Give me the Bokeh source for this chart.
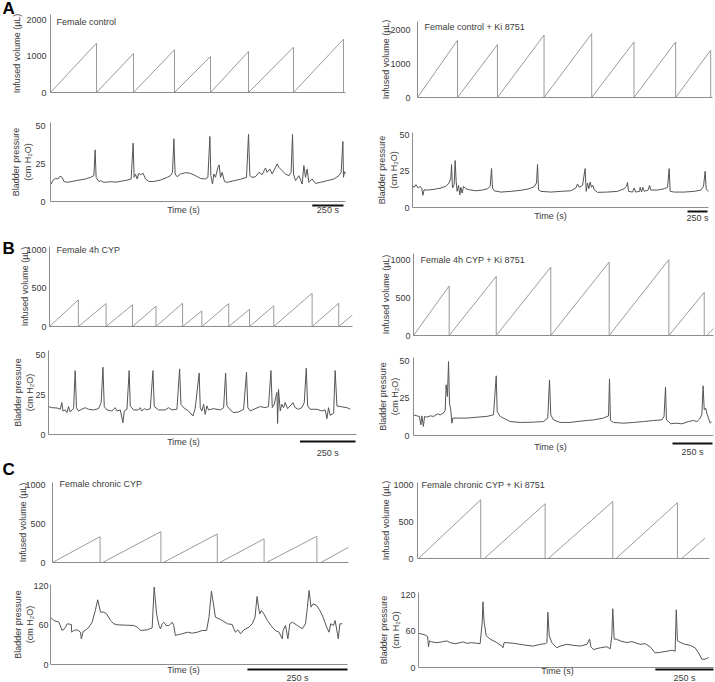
import math
from bokeh.plotting import figure
from bokeh.layouts import column, row
from bokeh.models import FixedTicker, Label, Arrow, Range1d
from bokeh.embed import file_html
from bokeh.resources import INLINE

FONT = "Liberation Sans"
TXT = "#3a3a3a"
AXIS = "#8c8c8c"
VOL_COLOR = "#9a9a9a"
PRES_COLOR = "#555555"

# ------------------------------------------------------------------ data
# A  Female control  (time in s, volume in uL, pressure in cm H2O)
a1_ramp_start = [0, 368, 664, 992, 1280, 1584, 1944]
a1_void_time = [368, 664, 992, 1280, 1584, 1944, 2344]
a1_peak_volume = [1360, 1075, 1180, 995, 1130, 1250, 1470]
a1_pressure = [(0, 12.6), (5, 11.5), (21, 14.1), (40, 15.2), (59, 14.8), (75, 16.6), (93, 15.9), (107, 13.2),
               (133, 12.6), (173, 13.2), (227, 14.1), (280, 14.8), (320, 15.9), (347, 17.0), (357, 34.0),
               (365, 15.9), (373, 14.8), (387, 13.2), (400, 13.7), (427, 12.6), (480, 13.0), (533, 12.8),
               (573, 13.5), (613, 14.1), (645, 14.8), (661, 38.4), (669, 15.9), (680, 18.1), (693, 14.8),
               (707, 18.5), (720, 17.7), (741, 18.5), (760, 14.8), (787, 13.2), (827, 13.2), (880, 14.1),
               (933, 15.9), (960, 17.0), (976, 19.2), (987, 41.3), (997, 18.1), (1013, 16.3), (1040, 18.1),
               (1080, 19.0), (1120, 18.5), (1160, 17.0), (1200, 15.2), (1240, 14.8), (1259, 15.9), (1275, 42.8),
               (1283, 17.0), (1296, 11.5), (1307, 18.1), (1320, 15.9), (1339, 22.5), (1349, 24.1), (1360, 15.9),
               (1373, 19.2), (1392, 13.2), (1413, 12.6), (1467, 13.7), (1520, 14.6), (1568, 15.9), (1584, 44.2),
               (1595, 17.0), (1613, 15.9), (1640, 16.3), (1667, 19.2), (1693, 17.7), (1720, 22.1), (1733, 19.2),
               (1755, 21.4), (1773, 18.1), (1800, 22.5), (1813, 24.7), (1827, 22.5), (1853, 20.3), (1880, 18.1),
               (1907, 17.0), (1925, 19.2), (1936, 44.2), (1944, 18.1), (1960, 13.7), (1987, 17.0), (2013, 11.5),
               (2027, 23.6), (2040, 15.9), (2053, 21.4), (2067, 12.6), (2093, 14.8), (2120, 11.9), (2160, 12.6),
               (2213, 13.7), (2267, 14.8), (2307, 17.0), (2325, 19.2), (2339, 39.5), (2344, 15.9), (2352, 19.6),
               (2360, 18.5)]

# A  Female control + Ki 8751
a2_ramp_start = [0, 500, 1000, 1583, 2179, 2708, 3229]
a2_void_time = [500, 1000, 1583, 2179, 2708, 3229, 3667]
a2_peak_volume = [1686, 1559, 1842, 1881, 1637, 1637, 1394]
a2_pressure = [(0, 15.3), (21, 14.0), (42, 15.8), (71, 13.5), (96, 14.7), (117, 13.0), (129, 8.4), (146, 12.3),
               (188, 12.1), (271, 12.6), (354, 13.5), (417, 14.7), (458, 17.0), (479, 20.5), (488, 29.8),
               (500, 13.5), (521, 15.8), (533, 32.6), (546, 18.1), (558, 11.2), (575, 15.3), (592, 8.8),
               (604, 14.0), (621, 10.0), (638, 14.7), (667, 13.0), (708, 12.3), (792, 11.6), (875, 12.1),
               (938, 13.0), (971, 14.7), (988, 27.0), (1000, 13.5), (1021, 11.6), (1104, 10.7), (1229, 11.2),
               (1354, 11.9), (1458, 13.0), (1521, 14.4), (1550, 17.0), (1563, 29.8), (1575, 12.3), (1604, 11.2),
               (1729, 10.7), (1854, 11.2), (1979, 11.6), (2042, 13.5), (2063, 16.3), (2083, 14.0), (2125, 15.3),
               (2158, 27.0), (2171, 11.2), (2188, 17.0), (2204, 13.0), (2221, 17.7), (2238, 14.0), (2254, 15.3),
               (2271, 12.3), (2313, 10.5), (2438, 10.7), (2563, 11.2), (2646, 13.0), (2675, 14.7), (2688, 17.4),
               (2700, 11.2), (2750, 10.7), (2771, 13.5), (2788, 10.7), (2838, 11.2), (2846, 14.0), (2863, 10.7),
               (2879, 14.0), (2896, 11.2), (2946, 12.1), (2963, 15.3), (2979, 12.1), (3063, 12.1), (3146, 13.0),
               (3188, 14.0), (3208, 27.0), (3221, 11.2), (3271, 10.7), (3396, 10.7), (3521, 11.2), (3604, 12.1),
               (3638, 14.7), (3658, 25.1), (3671, 13.0), (3688, 11.6), (3700, 11.2)]

# B  Female 4h CYP
b1_ramp_start = [0, 130, 255, 374, 480, 600, 687, 808, 902, 1011, 1184, 1304]
b1_void_time = [130, 255, 374, 480, 600, 687, 808, 902, 1011, 1184, 1304, 1365]
b1_peak_volume = [348, 300, 283, 265, 304, 204, 300, 226, 270, 435, 304, 148]
b1_pressure = [(0, 17.5), (15, 16.8), (38, 16.6), (53, 15.8), (60, 20.0), (65, 14.7), (75, 15.4), (83, 13.7),
               (90, 17.5), (98, 14.1), (105, 15.4), (113, 16.2), (120, 40.0), (126, 16.8), (135, 14.7), (150, 15.8),
               (165, 16.8), (180, 15.8), (203, 15.4), (225, 16.2), (237, 20.0), (245, 42.1), (251, 17.5),
               (263, 15.4), (285, 14.7), (300, 16.8), (308, 14.7), (323, 15.4), (335, 7.4), (341, 14.7),
               (353, 15.8), (363, 40.0), (368, 17.9), (383, 15.4), (405, 15.4), (413, 16.8), (420, 14.7),
               (431, 16.2), (443, 15.4), (458, 16.2), (470, 40.0), (476, 17.5), (495, 15.4), (525, 15.4),
               (540, 16.8), (555, 15.4), (578, 15.8), (590, 41.1), (596, 18.9), (608, 16.8), (630, 14.7),
               (650, 11.6), (660, 16.2), (678, 38.5), (683, 16.8), (690, 14.7), (698, 18.9), (705, 12.6),
               (713, 17.9), (720, 15.4), (743, 16.2), (773, 15.4), (788, 16.8), (797, 38.5), (803, 17.9),
               (818, 15.4), (833, 13.7), (855, 14.1), (878, 15.8), (891, 38.9), (897, 16.8), (908, 14.7),
               (930, 16.2), (953, 17.5), (975, 16.8), (990, 17.5), (1001, 40.0), (1007, 16.8), (1016, 18.9),
               (1022, 23.2), (1028, 26.3), (1031, 6.9), (1035, 28.4), (1043, 14.7), (1050, 18.9), (1058, 16.8),
               (1065, 20.0), (1076, 16.2), (1088, 17.9), (1100, 20.0), (1110, 16.8), (1125, 15.8), (1140, 16.8),
               (1151, 20.0), (1160, 41.5), (1166, 17.9), (1178, 15.8), (1208, 15.8), (1230, 14.7), (1245, 15.4),
               (1253, 9.9), (1260, 16.8), (1268, 12.0), (1283, 13.3), (1290, 40.0), (1298, 17.9), (1313, 17.5),
               (1343, 16.8), (1358, 15.8)]

# B  Female 4h CYP + Ki 8751
b2_ramp_start = [0, 223, 517, 858, 1223, 1596, 1833]
b2_void_time = [223, 517, 858, 1223, 1596, 1817, 1875]
b2_peak_volume = [659, 786, 909, 977, 1009, 573, 91]
b2_pressure = [(0, 13.8), (21, 13.1), (37, 12.7), (46, 7.1), (52, 13.1), (62, 6.0), (69, 12.7), (83, 12.2),
               (104, 13.1), (125, 12.7), (150, 14.4), (167, 13.8), (187, 14.9), (198, 16.7), (204, 33.8),
               (212, 26.0), (219, 49.3), (225, 21.6), (233, 17.1), (240, 8.2), (246, 11.6), (271, 11.6),
               (333, 11.6), (396, 12.2), (458, 12.7), (500, 13.8), (508, 26.0), (517, 39.8), (523, 16.0),
               (542, 12.7), (562, 11.6), (604, 9.3), (667, 8.7), (750, 8.9), (812, 9.3), (839, 11.6), (850, 37.1),
               (858, 13.8), (875, 10.4), (917, 8.7), (979, 8.7), (1021, 9.3), (1083, 10.0), (1125, 10.4),
               (1187, 11.6), (1219, 13.1), (1225, 37.8), (1231, 10.0), (1250, 8.7), (1312, 8.2), (1375, 8.7),
               (1437, 9.3), (1500, 10.0), (1552, 10.4), (1566, 12.7), (1575, 32.2), (1581, 10.4), (1594, 9.3),
               (1608, 7.8), (1635, 8.2), (1677, 7.8), (1719, 9.3), (1750, 10.0), (1771, 9.3), (1787, 10.9),
               (1802, 13.8), (1810, 33.1), (1817, 17.1), (1827, 18.2), (1833, 14.9), (1844, 11.6), (1854, 8.2),
               (1864, 9.3)]

# C  Female chronic CYP
c1_ramp_start = [0, 125, 277, 418, 535, 671]
c1_void_time = [119, 271, 412, 529, 661, 740]
c1_peak_volume = [333, 397, 367, 304, 338, 196]
c1_pressure = [(0, 72.8), (8, 67.7), (21, 65.1), (29, 52.3), (35, 54.9), (42, 62.6), (52, 61.5), (53, 49.7),
               (58, 52.3), (67, 53.3), (75, 49.7), (77, 39.5), (82, 51.3), (87, 52.3), (96, 57.4), (104, 65.1),
               (112, 83.1), (118, 99.5), (125, 80.5), (133, 80.5), (140, 77.9), (150, 67.7), (158, 62.6),
               (167, 61.0), (187, 60.5), (208, 60.0), (217, 57.4), (225, 52.3), (242, 53.3), (254, 56.4),
               (259, 119.0), (265, 77.9), (271, 60.0), (275, 54.9), (279, 62.6), (283, 65.1), (289, 60.0),
               (296, 60.0), (304, 65.1), (308, 60.0), (312, 44.6), (317, 45.6), (329, 47.2), (342, 49.7),
               (354, 48.2), (367, 49.7), (379, 52.3), (390, 52.3), (396, 72.8), (402, 112.8), (407, 93.3),
               (412, 72.8), (421, 70.3), (429, 67.7), (442, 62.6), (454, 61.5), (458, 54.9), (462, 49.7),
               (468, 53.3), (475, 47.2), (483, 53.3), (496, 57.4), (504, 62.6), (511, 72.8), (516, 104.6),
               (521, 83.1), (523, 77.9), (527, 83.1), (533, 77.9), (542, 67.7), (554, 57.4), (562, 52.3),
               (571, 49.7), (579, 39.5), (581, 52.3), (587, 60.0), (593, 39.5), (598, 62.6), (604, 65.1),
               (617, 60.0), (629, 54.9), (637, 62.6), (641, 83.1), (646, 113.8), (651, 88.2), (656, 93.3),
               (665, 90.8), (673, 83.1), (681, 72.8), (690, 57.4), (696, 49.7), (700, 62.6), (707, 60.0),
               (711, 67.7), (717, 47.2), (719, 39.5), (723, 62.6), (729, 62.6)]

# C  Female chronic CYP + Ki 8751
c2_ramp_start = [4, 287, 563, 854, 1136]
c2_void_time = [272, 549, 840, 1118, 1237]
c2_peak_volume = [796, 742, 773, 756, 276]
c2_pressure = [(0, 56.6), (14, 55.4), (29, 53.7), (39, 51.4), (43, 34.3), (47, 44.0), (57, 42.3), (79, 41.1),
               (100, 42.3), (122, 44.0), (136, 41.1), (158, 39.4), (179, 41.1), (193, 42.3), (208, 40.0),
               (229, 41.1), (251, 40.0), (265, 39.4), (274, 75.4), (277, 108.6), (282, 75.4), (291, 52.6),
               (308, 46.9), (337, 41.1), (358, 35.4), (363, 32.6), (368, 41.1), (380, 41.1), (408, 40.0),
               (437, 38.3), (466, 36.6), (494, 35.4), (523, 38.3), (545, 39.4), (552, 41.1), (556, 91.4),
               (562, 52.6), (573, 41.1), (595, 32.6), (609, 35.4), (638, 38.3), (666, 36.6), (695, 35.4),
               (724, 38.3), (735, 46.9), (741, 34.3), (752, 29.7), (781, 32.6), (810, 34.3), (824, 30.9),
               (831, 52.6), (835, 97.1), (841, 46.9), (850, 46.9), (867, 44.0), (896, 41.1), (917, 42.9),
               (931, 41.1), (953, 38.3), (974, 39.4), (996, 34.3), (1017, 24.0), (1039, 25.1), (1068, 26.9),
               (1089, 28.6), (1103, 26.9), (1108, 95.4), (1113, 44.0), (1128, 41.1), (1146, 38.3), (1168, 36.6),
               (1189, 32.6), (1204, 24.0), (1218, 13.7), (1232, 13.7), (1247, 16.6)]

vol_ticks_a = [0, 1000, 2000]
vol_ticks_bc = [0, 500, 1000]
pres_ticks_ab = [0, 25, 50]
pres_ticks_c = [0, 60, 120]
titles = ["Female control", "Female control + Ki 8751", "Female 4h CYP", "Female 4h CYP + Ki 8751",
          "Female chronic CYP", "Female chronic CYP + Ki 8751"]
panel_letters = ["A", "B", "C"]
VOL_LABEL = "Infused volume (µL)"
PRES_LABEL = "Bladder pressure\n(cm H₂O)"
SCALE_SECONDS = 250


def sawtooth(starts, voids, peaks, last_void=True):
    xs, ys = [], []
    n = len(starts)
    for i, (s, e, v) in enumerate(zip(starts, voids, peaks)):
        xs += [s, e]
        ys += [0, v]
        if i < n - 1 or last_void:
            xs.append(e)
            ys.append(0)
    return xs, ys


def scale(sp):
    W = sp["w"] - sp["l"] - sp["r"]
    H = sp["h"] - sp["t"] - sp["b"]
    return sp["T"] / W, sp["Y"] / H, W, H


def at(sp, dx, dy):
    """pixel offsets from the plotting area's bottom-left corner -> data coordinates"""
    kx, ky, _, _ = scale(sp)
    return dx * kx, dy * ky


def make_fig(sp, ticks, ylabel, label_dx):
    kx, ky, W, H = scale(sp)
    x_range = Range1d(-sp["l"] * kx, sp["T"] + sp["r"] * kx)
    y_range = Range1d(-sp["b"] * ky, sp["Y"] + sp["t"] * ky)
    p = figure(width=sp["w"], height=sp["h"], x_range=x_range, y_range=y_range,
               output_backend="svg", toolbar_location=None, title=None,
               min_border_left=0, min_border_right=0, min_border_top=0, min_border_bottom=0)
    p.outline_line_color = None
    p.grid.visible = False
    p.background_fill_color = "white"
    p.border_fill_color = "white"

    xa = p.xaxis[0]
    xa.fixed_location = 0
    xa.bounds = (0, sp["T"])
    xa.ticker = FixedTicker(ticks=[], minor_ticks=[])
    xa.major_tick_line_color = None
    xa.minor_tick_line_color = None
    xa.major_label_text_font_size = "0px"
    xa.axis_line_color = AXIS

    ya = p.yaxis[0]
    ya.fixed_location = 0
    ya.bounds = (0, sp["Y"])
    ya.ticker = FixedTicker(ticks=ticks, minor_ticks=[])
    ya.major_tick_line_color = None
    ya.minor_tick_line_color = None
    ya.major_tick_out = 0
    ya.major_tick_in = 0
    ya.axis_line_color = AXIS
    ya.major_label_text_font = FONT
    ya.major_label_text_font_size = "9px"
    ya.major_label_text_color = TXT
    ya.major_label_standoff = sp["ms"]

    lx, ly = at(sp, label_dx, H / 2)
    p.add_layout(Label(x=lx, y=ly, text=ylabel, angle=math.pi / 2, text_align="center",
                       text_baseline="middle", text_font=FONT, text_font_size="9px", text_color=TXT))
    return p


def text(p, sp, dx, dy, s, align="left", size="9px", style="normal", color=TXT):
    x, y = at(sp, dx, dy)
    p.add_layout(Label(x=x, y=y, text=s, text_align=align, text_baseline="middle", text_font=FONT,
                       text_font_size=size, text_font_style=style, text_color=color))


def volume_panel(sp, ticks, starts, voids, peaks, last_void, title, tdx, tdy, label_dx,
                 letter=None, ldx=0, ldy=0):
    p = make_fig(sp, ticks, VOL_LABEL, label_dx)
    xs, ys = sawtooth(starts, voids, peaks, last_void)
    p.line(xs, ys, line_color=VOL_COLOR, line_width=1)
    text(p, sp, tdx, tdy, title)
    if letter:
        text(p, sp, ldx, ldy, letter, size="17px", style="bold", color="black")
    return p


def pressure_panel(sp, ticks, data, label_dx, time_dx, time_dy, bar_dy, bar_end_dx, lab_dy):
    p = make_fig(sp, ticks, PRES_LABEL, label_dx)
    t = [d[0] for d in data]
    v = [d[1] for d in data]
    p.line(t, v, line_color=PRES_COLOR, line_width=1)
    text(p, sp, time_dx, time_dy, "Time (s)", align="center")
    x_end, y_bar = at(sp, bar_end_dx, bar_dy)
    x_start = x_end - SCALE_SECONDS
    p.add_layout(Arrow(end=None, x_start=x_start, y_start=y_bar, x_end=x_end, y_end=y_bar,
                       line_color="#111111", line_width=2))
    _, y_lab = at(sp, 0, lab_dy)
    p.add_layout(Label(x=(x_start + x_end) / 2, y=y_lab, text=f"{SCALE_SECONDS} s", text_align="center",
                       text_baseline="middle", text_font=FONT, text_font_size="9px", text_color=TXT))
    return p


# figure boxes (w, h), plotting-area insets (l, r, t, b), axis extents (T seconds, Y units)
S = {
    "a1v": dict(w=362, h=104, l=50, r=17, t=14, b=12, T=2360, Y=2150, ms=4),
    "a2v": dict(w=353, h=104, l=55, r=3, t=21, b=7, T=3690, Y=2240, ms=7),
    "a1p": dict(w=362, h=120, l=50, r=17, t=18, b=23, T=2360, Y=52, ms=5),
    "a2p": dict(w=353, h=120, l=50, r=7, t=28, b=17, T=3700, Y=52, ms=3),
    "b1v": dict(w=362, h=118, l=49, r=10, t=22, b=16, T=1366, Y=1045, ms=3),
    "b2v": dict(w=353, h=118, l=51, r=2, t=29, b=7, T=1875, Y=1090, ms=3),
    "b1p": dict(w=362, h=118, l=48, r=6, t=8, b=26, T=1386, Y=52.6, ms=3),
    "b2p": dict(w=353, h=118, l=51, r=2, t=15, b=25, T=1875, Y=52, ms=4),
    "c1v": dict(w=362, h=112, l=52, r=14, t=22, b=10, T=740, Y=1030, ms=7),
    "c2v": dict(w=353, h=112, l=55, r=6, t=22, b=14, T=1256, Y=1030, ms=4),
    "c1p": dict(w=362, h=110, l=50, r=15, t=12, b=18, T=742, Y=123, ms=2),
    "c2p": dict(w=353, h=110, l=56, r=2, t=20, b=15, T=1268, Y=124, ms=3),
}

fa1v = volume_panel(S["a1v"], vol_ticks_a, a1_ramp_start, a1_void_time, a1_peak_volume, True,
                    titles[0], 6, 71, -33.5, panel_letters[0], -48, 84)
fa2v = volume_panel(S["a2v"], vol_ticks_a, a2_ramp_start, a2_void_time, a2_peak_volume, True,
                    titles[1], 7, 71, -31.5)
fa1p = pressure_panel(S["a1p"], pres_ticks_ab, a1_pressure, -29, 133, -8.5, -4, 293, -8.5)
fa2p = pressure_panel(S["a2p"], pres_ticks_ab, a2_pressure, -24.5, 138, -8.5, -4, 295, -10.5)

fb1v = volume_panel(S["b1v"], vol_ticks_bc, b1_ramp_start, b1_void_time, b1_peak_volume, False,
                    titles[2], 7, 77, -25, panel_letters[1], -47, 78)
fb2v = volume_panel(S["b2v"], vol_ticks_bc, b2_ramp_start, b2_void_time, b2_peak_volume, False,
                    titles[3], 7, 76, -27.5)
fb1p = pressure_panel(S["b1p"], pres_ticks_ab, b1_pressure, -25, 135, -7, -7, 307, -18)
fb2p = pressure_panel(S["b2p"], pres_ticks_ab, b2_pressure, -25, 137, -11, -8, 299, -16)

fc1v = volume_panel(S["c1v"], vol_ticks_bc, c1_ramp_start, c1_void_time, c1_peak_volume, False,
                    titles[4], 7, 79, -29.5, panel_letters[2], -50, 93)
fc2v = volume_panel(S["c2v"], vol_ticks_bc, c2_ramp_start, c2_void_time, c2_peak_volume, False,
                    titles[5], 4, 74, -32)
fc1p = pressure_panel(S["c1p"], pres_ticks_c, c1_pressure, -27, 133, -5, -5, 297, -13)
fc2p = pressure_panel(S["c2p"], pres_ticks_c, c2_pressure, -28.5, 139, -3.5, -2, 295, -10)

layout = column(
    row(fa1v, fa2v), row(fa1p, fa2p),
    row(fb1v, fb2v), row(fb1p, fb2p),
    row(fc1v, fc2v), row(fc1p, fc2p),
)

open("out.html", "w").write(file_html(layout, INLINE))
